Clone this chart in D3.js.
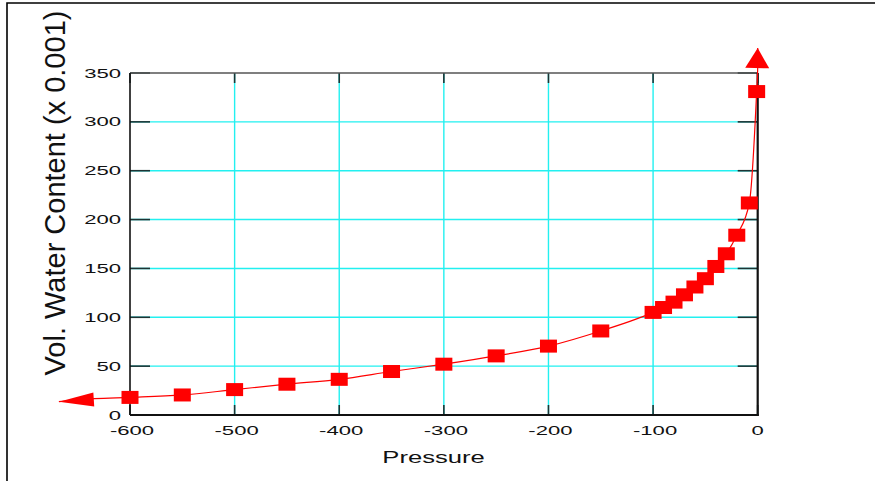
<!DOCTYPE html>
<html>
<head>
<meta charset="utf-8">
<script src="https://cdn.jsdelivr.net/npm/d3@7"></script>
<style>
body { margin: 0; background: #fff; }
text { font-family: "Liberation Sans", Arial, sans-serif; fill: #111; }
</style>
</head>
<body>
<svg width="875" height="481"></svg>
<script>
// measured points (pressure, vol. water content x 0.001)
var pressure = [-600, -550, -500, -450, -400, -350, -300, -250, -200, -150,
                -100, -90, -80, -70, -60, -50, -40, -30, -20, -8, -1];
var water = [18, 20.5, 26, 31.5, 36.5, 44.5, 52, 60.5, 70.5, 86,
             105, 110, 115.5, 123, 131, 139.5, 152, 165, 184, 217, 331];

// curve tails ending in arrowheads
var tailLeft = [[-668, 13.6], [-634, 16.7]];
var tailTop = [[0, 355], [0, 375.5]];

var xTicks = [-600, -500, -400, -300, -200, -100, 0];
var yTicks = [0, 50, 100, 150, 200, 250, 300, 350];

var svg = d3.select("svg"),
    width = +svg.attr("width"),
    height = +svg.attr("height");

var x = d3.scaleLinear()
.domain([-600, 0])
.range([130, 757.7]);

var y = d3.scaleLinear()
.domain([0, 350])
.range([415, 73]);

// outer frame (left + top only)
svg.append("path")
.attr("d", "M7," + height + "V3H" + width)
.attr("fill", "none")
.attr("stroke", "#000")
.attr("stroke-width", 1.6);

// grid
svg.selectAll(".vgrid")
.data(xTicks.slice(1, -1))
.enter().append("line")
.attr("class", "vgrid")
.attr("x1", function(d) { return x(d); })
.attr("x2", function(d) { return x(d); })
.attr("y1", y(350))
.attr("y2", y(0))
.attr("stroke", "#22f0f0")
.attr("stroke-width", 1.4);

svg.selectAll(".hgrid")
.data(yTicks.slice(1, -1))
.enter().append("line")
.attr("class", "hgrid")
.attr("x1", x(-600))
.attr("x2", x(0))
.attr("y1", function(d) { return y(d); })
.attr("y2", function(d) { return y(d); })
.attr("stroke", "#22f0f0")
.attr("stroke-width", 1.4);

// ticks, pointing inward
var tickColor = "#1d3434";
yTicks.forEach(function(t) {
    svg.append("line")
    .attr("x1", x(-600)).attr("x2", x(-600) + 20)
    .attr("y1", y(t)).attr("y2", y(t))
    .attr("stroke", tickColor).attr("stroke-width", 1.6);
    svg.append("line")
    .attr("x1", x(0) - 20).attr("x2", x(0))
    .attr("y1", y(t)).attr("y2", y(t))
    .attr("stroke", tickColor).attr("stroke-width", 1.6);
});
xTicks.forEach(function(t) {
    svg.append("line")
    .attr("x1", x(t)).attr("x2", x(t))
    .attr("y1", y(0)).attr("y2", y(0) - 10)
    .attr("stroke", tickColor).attr("stroke-width", 1.6);
    svg.append("line")
    .attr("x1", x(t)).attr("x2", x(t))
    .attr("y1", y(350)).attr("y2", y(350) + 10)
    .attr("stroke", tickColor).attr("stroke-width", 1.6);
});

// plot frame
svg.append("line")
.attr("x1", x(-600)).attr("x2", x(0))
.attr("y1", y(350)).attr("y2", y(350))
.attr("stroke", "#555").attr("stroke-width", 1.6);
svg.append("line")
.attr("x1", x(-600)).attr("x2", x(-600))
.attr("y1", y(350)).attr("y2", y(0))
.attr("stroke", "#111").attr("stroke-width", 1.6);
svg.append("line")
.attr("x1", x(0)).attr("x2", x(0))
.attr("y1", y(350)).attr("y2", y(0) + 1)
.attr("stroke", "#111").attr("stroke-width", 2.2);
svg.append("line")
.attr("x1", x(-600)).attr("x2", x(0) + 1)
.attr("y1", y(0)).attr("y2", y(0))
.attr("stroke", "#111").attr("stroke-width", 2.2);

// tick labels (stretched horizontally like the original)
svg.selectAll(".ylab")
.data(yTicks)
.enter().append("text")
.attr("class", "ylab")
.attr("transform", function(d) { return "translate(121," + (y(d) + 4.6) + ") scale(1.7,1)"; })
.attr("text-anchor", "end")
.attr("font-size", 13)
.text(function(d) { return d; });

svg.selectAll(".xlab")
.data(xTicks)
.enter().append("text")
.attr("class", "xlab")
.attr("transform", function(d) { return "translate(" + (x(d) + (d < 0 ? 2 : 0)) + ",435) scale(1.7,1)"; })
.attr("text-anchor", "middle")
.attr("font-size", 13)
.text(function(d) { return d; });

// axis titles
svg.append("text")
.attr("transform", "translate(433.5,463) scale(1.6,1)")
.attr("text-anchor", "middle")
.attr("font-size", 16)
.text("Pressure");

svg.append("text")
.attr("transform", "translate(64.5,193) rotate(-90)")
.attr("text-anchor", "middle")
.attr("font-size", 29)
.text("Vol. Water Content (x 0.001)");

// curve
var points = pressure.map(function(p, i) { return [p, water[i]]; });
var linePts = tailLeft.concat(points, tailTop);

var line = d3.line()
.x(function(d) { return x(d[0]); })
.y(function(d) { return y(d[1]); })
.curve(d3.curveMonotoneX);

svg.append("path")
.datum(linePts)
.attr("d", line)
.attr("fill", "none")
.attr("stroke", "#ff0000")
.attr("stroke-width", 1.2);

// arrowheads
function arrow(tip, from, len, halfW) {
    var tx = x(tip[0]), ty = y(tip[1]),
        fx = x(from[0]), fy = y(from[1]),
        dx = tx - fx, dy = ty - fy,
        l = Math.sqrt(dx * dx + dy * dy);
    dx /= l; dy /= l;
    var bx = tx - dx * len, by = ty - dy * len;
    return [[tx, ty], [bx - dy * halfW, by + dx * halfW], [bx + dy * halfW, by - dx * halfW]];
}

svg.append("path")
.attr("d", "M" + arrow(tailLeft[0], points[0], 35, 7).join("L") + "Z")
.attr("fill", "#ff0000");

svg.append("path")
.attr("d", "M" + arrow(tailTop[1], points[points.length - 1], 20, 12).join("L") + "Z")
.attr("fill", "#ff0000");

// markers
svg.selectAll(".pt")
.data(points)
.enter().append("rect")
.attr("class", "pt")
.attr("x", function(d) { return x(d[0]) - 8.5; })
.attr("y", function(d) { return y(d[1]) - 6.5; })
.attr("width", 17)
.attr("height", 13)
.attr("fill", "#ff0000");
</script>
</body>
</html>
